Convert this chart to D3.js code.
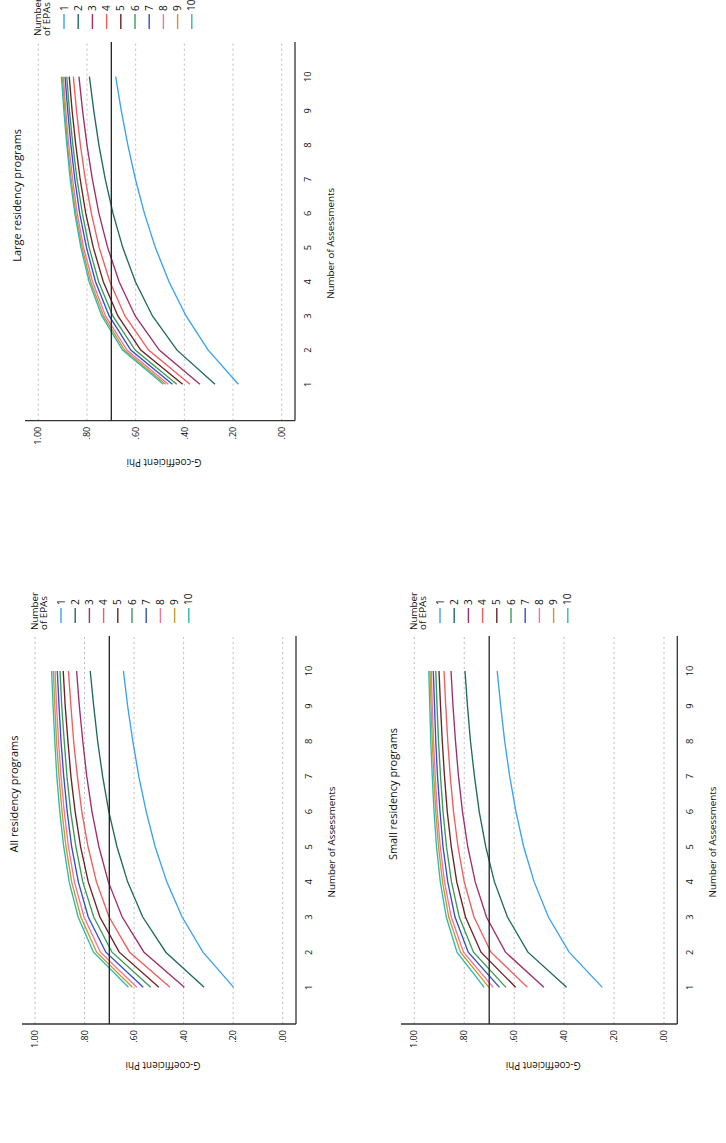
<!DOCTYPE html>
<html><head><meta charset="utf-8">
<script src="https://cdn.jsdelivr.net/npm/d3@7"></script>
<style>html,body{margin:0;padding:0;background:#fff}svg{display:block}text{font-family:"Open Sans",sans-serif;fill:#111}</style>
</head><body>
<script>
// ---- data ----
const assessments = [1,2,3,4,5,6,7,8,9,10];
const epaCounts = ["1","2","3","4","5","6","7","8","9","10"];
const yTicks = [0, 0.2, 0.4, 0.6, 0.8, 1.0];
const yTickLabels = [".00", ".20", ".40", ".60", ".80", "1.00"];
const cutoff = 0.70;
const panelTitles = ["All residency programs", "Small residency programs", "Large residency programs"];
const seriesColors = ["#3aa3ee","#1f6b5c","#a12d6e","#f25c5c","#6b2326","#3b9a57","#3350c8","#f5739a","#c79a2a","#2bbbb0"];

const allPhi = [
  [.198,.322,.406,.468,.515,.551,.581,.605,.626,.643],
  [.317,.472,.565,.626,.669,.702,.727,.747,.763,.777],
  [.397,.560,.648,.704,.742,.770,.791,.807,.821,.832],
  [.455,.618,.701,.752,.786,.811,.829,.844,.855,.865],
  [.500,.660,.738,.785,.816,.838,.855,.867,.878,.886],
  [.533,.689,.763,.807,.835,.856,.871,.882,.892,.899],
  [.563,.714,.785,.825,.852,.870,.884,.895,.903,.910],
  [.589,.736,.802,.841,.865,.882,.895,.905,.913,.919],
  [.607,.751,.815,.852,.875,.891,.903,.913,.920,.926],
  [.623,.764,.826,.862,.884,.900,.912,.920,.927,.933]
];
const smallPhi = [
  [.247,.380,.463,.520,.562,.593,.618,.638,.654,.668],
  [.390,.545,.627,.679,.714,.740,.759,.775,.787,.797],
  [.481,.635,.711,.756,.786,.807,.823,.835,.845,.853],
  [.547,.693,.761,.800,.825,.843,.856,.866,.874,.881],
  [.594,.733,.795,.830,.852,.868,.879,.888,.895,.901],
  [.633,.763,.820,.851,.871,.885,.895,.903,.909,.914],
  [.659,.784,.837,.866,.885,.897,.907,.914,.919,.924],
  [.684,.803,.852,.879,.896,.908,.916,.923,.928,.932],
  [.701,.815,.862,.887,.903,.914,.922,.928,.933,.937],
  [.720,.829,.872,.896,.911,.921,.928,.934,.938,.942]
];
const largePhi = [
  [.178,.302,.393,.463,.519,.564,.601,.632,.659,.682],
  [.274,.430,.531,.601,.653,.693,.725,.751,.772,.790],
  [.336,.503,.602,.668,.715,.751,.778,.800,.818,.833],
  [.377,.547,.644,.706,.750,.782,.807,.827,.843,.856],
  [.407,.579,.673,.733,.774,.805,.828,.846,.861,.873],
  [.431,.602,.694,.752,.791,.819,.841,.858,.872,.883],
  [.449,.620,.709,.765,.802,.830,.850,.866,.879,.890],
  [.466,.636,.724,.777,.814,.840,.859,.875,.887,.897],
  [.477,.646,.732,.785,.820,.846,.865,.880,.891,.901],
  [.486,.654,.739,.791,.825,.850,.869,.883,.895,.905]
];

// ---- layout (figure drawn in landscape frame u x v, then rotated -90deg) ----
const W = 726, H = 1143;
const panels = [
  {title: panelTitles[0], data: allPhi,   uL:119,   uR:507,  xU0:120.5, xU11:507.2,  vT:22,  vB:296,   v1:35,    v0:282.7},
  {title: panelTitles[1], data: smallPhi, uL:119,   uR:507,  xU0:120.5, xU11:507.2,  vT:401, vB:677.3, v1:414.3, v0:664},
  {title: panelTitles[2], data: largePhi, uL:722.3, uR:1101, xU0:724.5, xU11:1100.5, vT:25,  vB:295,   v1:38.3,  v0:281.7}
];

const svg = d3.select("body").append("svg").attr("width", W).attr("height", H);
svg.append("rect").attr("width", W).attr("height", H).attr("fill", "#fff");

// font sizes fitted to the reference text widths
function measure(str, size) {
  const t = svg.append("text").attr("font-size", size).text(str);
  const L = t.node().getComputedTextLength();
  t.remove();
  return L;
}
const fsTitle  = 12 * 117 / measure("All residency programs", 12);
const fsAxis   = 10 * 111 / measure("Number of Assessments", 10);
const fsYAxis  = 10 * 75  / measure("G-coefficient Phi", 10);
const fsTick   = 10 * 18  / measure("1.00", 10);
const fsXTick  = 10 * 10.7 / measure("10", 10);
const fsLegend = 10 * 38  / measure("Number", 10);
const fsLegNum = 10 * 11.5 / measure("10", 10);

const root = svg.append("g").attr("transform", `translate(0,${H}) rotate(-90)`);

panels.forEach(p => {
  const g = root.append("g");
  const x = d3.scaleLinear().domain([0, 11]).range([p.xU0, p.xU11]);
  const y = d3.scaleLinear().domain([0, 1]).range([p.v0, p.v1]);
  const cu = (p.uL + p.uR) / 2;

  // grid
  g.selectAll(".grid").data(yTicks).join("line")
    .attr("x1", p.uL).attr("x2", p.uR)
    .attr("y1", d => y(d)).attr("y2", d => y(d))
    .attr("stroke", "#bdbdbd").attr("stroke-width", 1).attr("stroke-dasharray", "2,3");

  // axes lines
  g.append("line").attr("x1", p.uL).attr("x2", p.uR).attr("y1", p.vB).attr("y2", p.vB)
    .attr("stroke", "#333").attr("stroke-width", 1.3);
  g.append("line").attr("x1", p.uL).attr("x2", p.uL).attr("y1", p.vT).attr("y2", p.vB)
    .attr("stroke", "#333").attr("stroke-width", 1.3);

  // x tick labels
  g.selectAll(".xt").data(assessments).join("text")
    .attr("x", d => x(d)).attr("y", p.vB + 15.5)
    .attr("text-anchor", "middle").attr("font-size", fsXTick).text(d => d);
  // y tick labels
  g.selectAll(".yt").data(yTicks).join("text")
    .attr("x", p.uL - 6).attr("y", d => y(d)).attr("dy", "0.35em")
    .attr("text-anchor", "end").attr("font-size", fsTick).text((d, i) => yTickLabels[i]);

  // axis titles
  g.append("text").attr("x", cu - 12).attr("y", p.vB + 39)
    .attr("text-anchor", "middle").attr("font-size", fsAxis).text("Number of Assessments");
  g.append("text").attr("transform", `translate(${p.uL - 38},${(p.vT + p.vB) / 2 + 4}) rotate(-90)`)
    .attr("text-anchor", "middle").attr("font-size", fsYAxis).text("G-coefficient Phi");

  // title
  g.append("text").attr("x", cu + 36).attr("y", p.vT - 4)
    .attr("text-anchor", "middle").attr("font-size", fsTitle).text(p.title);

  // series lines
  const line = d3.line().x((d, i) => x(assessments[i])).y(d => y(d));
  g.selectAll(".series").data(p.data).join("path")
    .attr("d", line).attr("fill", "none")
    .attr("stroke", (d, i) => seriesColors[i]).attr("stroke-width", 1.35);

  // cutoff reference line
  g.append("line").attr("x1", p.uL).attr("x2", p.uR).attr("y1", y(cutoff)).attr("y2", y(cutoff))
    .attr("stroke", "#222").attr("stroke-width", 1.3);

  // legend
  const lg = g.append("g");
  lg.append("text").attr("x", p.uR + 6).attr("y", p.vT + 15.5).attr("font-size", fsLegend).text("Number");
  lg.append("text").attr("x", p.uR + 6).attr("y", p.vT + 25).attr("font-size", fsLegend).text("of EPAs");
  epaCounts.forEach((lab, i) => {
    const vy = p.vT + 39 + i * 14.2;
    lg.append("line").attr("x1", p.uR + 13).attr("x2", p.uR + 28).attr("y1", vy).attr("y2", vy)
      .attr("stroke", seriesColors[i]).attr("stroke-width", 1.4);
    lg.append("text").attr("x", p.uR + 31).attr("y", vy).attr("dy", "0.35em")
      .attr("font-size", fsLegNum).text(lab);
  });
});
</script>
</body></html>
